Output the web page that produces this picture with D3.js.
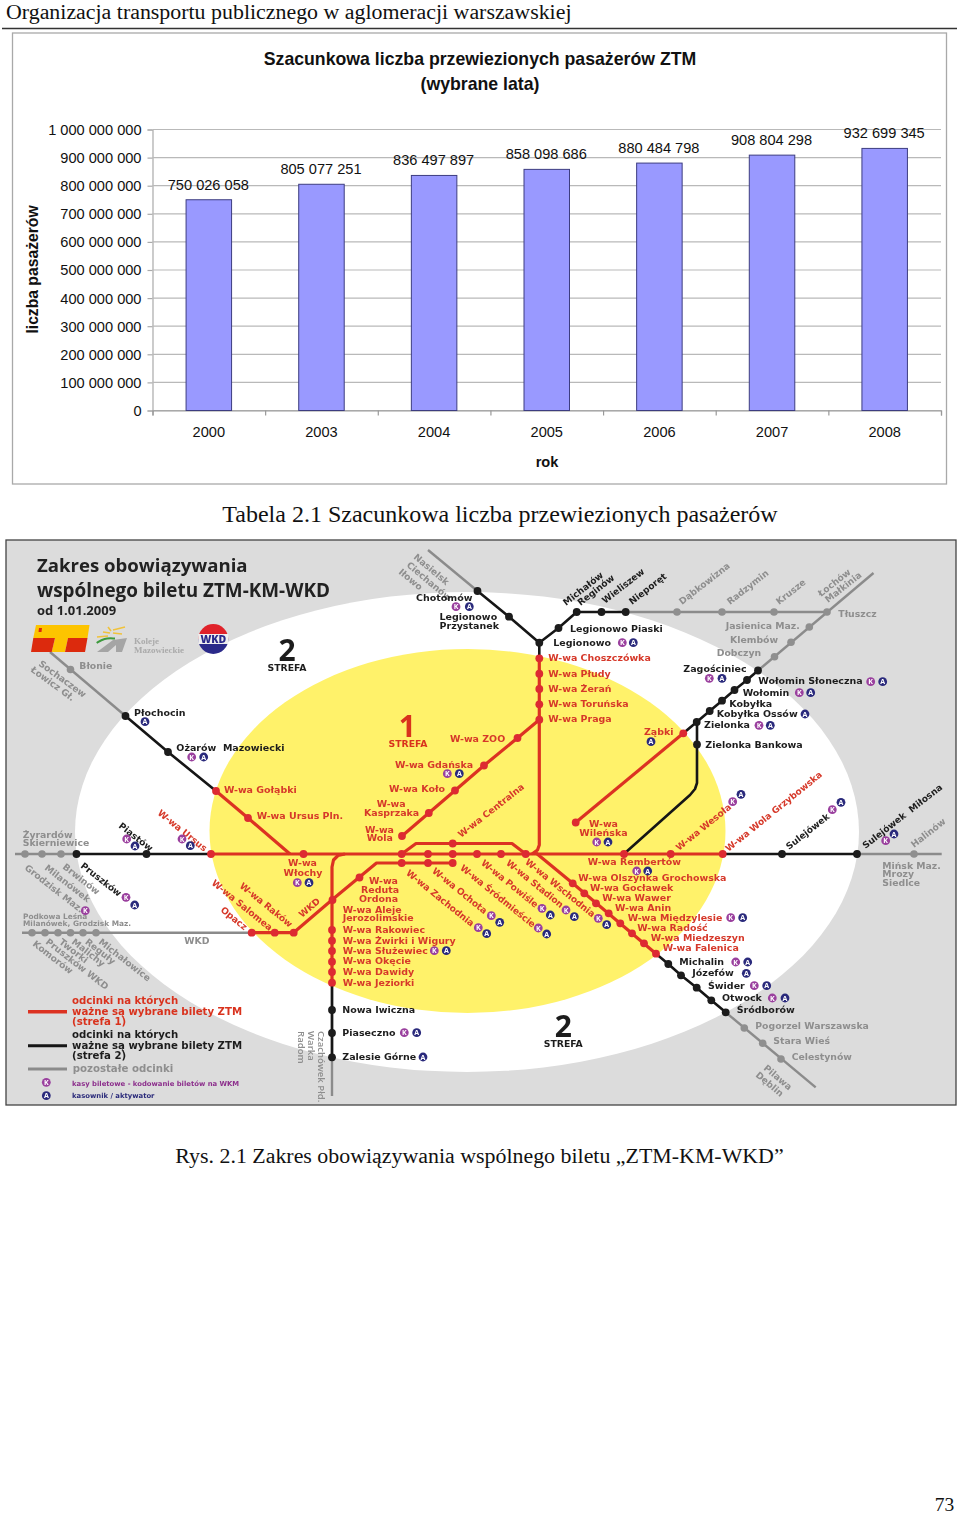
<!DOCTYPE html>
<html><head><meta charset="utf-8">
<script src="https://cdn.jsdelivr.net/npm/d3@7"></script>
<style>
html,body{margin:0;padding:0;background:#fff}
svg{display:block}
.serif{font-family:"Liberation Serif",serif;fill:#111}
.arial{font-family:"Liberation Sans",Arial,sans-serif;fill:#111}
.ml{font-family:"DejaVu Sans",sans-serif;font-weight:700}
.mt{font-family:"Open Sans",sans-serif;font-weight:700}
</style></head><body>
<svg id="page" width="960" height="1515"></svg>
<script>
// ---------- page text ----------
const pageHeading = "Organizacja transportu publicznego w aglomeracji warszawskiej";
const tableCaption = "Tabela 2.1 Szacunkowa liczba przewiezionych pasażerów";
const figureCaption = "Rys. 2.1 Zakres obowiązywania wspólnego biletu „ZTM-KM-WKD”";
const pageNumber = "73";
// ---------- bar chart ----------
const chartTitle = ["Szacunkowa liczba przewiezionych pasażerów ZTM","(wybrane lata)"];
const years = ["2000","2003","2004","2005","2006","2007","2008"];
const passengers = [750026058,805077251,836497897,858098686,880484798,908804298,932699345];
const yTicks = [0,100000000,200000000,300000000,400000000,500000000,600000000,700000000,800000000,900000000,1000000000];
const yLabel = "liczba pasażerów";
const xLabel = "rok";
// ---------- map: positions are the map's own schematic coordinates ----------
const mapEllipses = [[467,832,392,240,"#ffffff"],[467.5,831,258,182,"#fff26a"]];
const grayLines = [
 [[50,652],[125.5,716]],
 [[15,854],[76.5,854]],
 [[22,932.7],[251.7,932.7]],
 [[332,982],[332,1096]],
 [[428,550],[477.5,591]],
 [[625.7,612],[827,612]],
 [[873.5,573],[758,670.5]],
 [[857,854],[941.7,854]],
 [[725.7,1012.3],[815.7,1087.3]]
];
const blackLines = [
 [[125.5,716],[168,752],[216,791]],
 [[76.5,854],[211,854]],
 [[722.7,854],[857,854]],
 [[332,982.7],[332,1057.3]],
 [[477.5,591],[509,616.7],[539.3,642.7]],
 [[539.3,658],[539.3,642.7],[558.5,628],[576.7,612],[625.7,612]],
 [[758,670.5],[747,680],[734.5,690],[722,700.7],[709.7,711],[696.7,722],[683.3,733.3]],
 [[697,722],[697,744.5],[697,783],[695,789],[690,795],[625,853]],
 [[656,953.7],[668.3,964],[681,975.3],[696.7,987.7],[711.3,1000.3],[725.7,1012.3]]
];
const redLines = [
 [[216,791],[248,818],[290,854]],
 [[211,854],[722.7,854]],
 [[401.7,854],[416,843.5],[512,843.5],[525.7,854]],
 [[452.7,863],[376.5,863],[333,899],[293.5,932.7],[251.7,932.7]],
 [[345,854],[338,855.5],[333.5,860],[332,867],[332,982.7]],
 [[539.3,658],[539.3,845],[537.5,850],[532,854]],
 [[539.3,719.7],[517.5,738],[484,765.5],[455,790.5],[428.8,813],[402,836]],
 [[683.3,733.3],[575.7,822.5]],
 [[536,853],[572.7,883.3],[656,953.7]]
];
const graySt = [[70.5,669.5],[25,854],[42,854],[61,854],[32,932.7],[45,932.7],[58,932.7],[70.5,932.7],[83,932.7],[96,932.7],
 [677,612],[722,612],[774,612],[827,612],[809.3,627],[791,642.3],[774.5,656.7],[914,854],[744.3,1028],[762.7,1043.3],[781,1059]];
const blackSt = [[477.5,591],[509,616.7],[539.3,642.7],[558.5,628],[576.7,612],[601.5,612],[625.7,612],[125.5,716],[168,752],[76.5,854],[146.5,854],
 [758,670.5],[747,680],[734.5,690],[722,700.7],[709.7,711],[696.7,722],[697,744.5],[782,854],[857,854],
 [332,1010],[332,1033],[332,1057.3],[668.3,964],[681,975.3],[696.7,987.7],[711.3,1000.3],[725.7,1012.3]];
const redSt = [[216,791],[248,818],[211,854],[303.5,854],[401.7,854],[428,854],[452.7,854],[477,854],[501,854],[525.7,854],[624,854],[670.7,854],[722.7,854],
 [452.7,843.5],[401.7,863],[428,863],[452.7,863],[359.5,877.5],[332.5,900],[293.7,932.7],[274.7,932.7],[251.7,932.7],
 [332,930],[332,940.7],[332,951],[332,961.7],[332,972],[332,982.7],
 [539.3,658.3],[539.3,673.7],[539.3,689],[539.3,704.3],[539.3,719.7],[517.5,738],[484,765.5],[455,790.5],[428.8,813],[402,836],
 [683.3,733.3],[575.7,822.5],[572.7,883.3],[584.3,893.3],[596,903.3],[608.7,913.3],[620.3,923.3],[632,933.3],[644,943.3],[656,953.7]];
const kBadges = [[456,606.7],[191.7,757],[447.3,773.7],[622.3,642.7],[709.3,678.3],[870.7,681.7],[799.3,692.7],[759,725.3],[732.7,801.7],[832.3,809.7],[885.7,840.7],
 [596.7,842],[636.7,871],[730.7,917.7],[735.7,962],[754.3,985.7],[772.3,998],[598.3,918.3],[566,910],[542,908.3],[538.3,928],[491.3,915.7],[478.3,927.7],
 [182,839],[126.7,839],[297.3,882.7],[126,897.3],[85.3,910.7],[434.3,950.7],[404.3,1032.7],[46.3,1082.3]];
const aBadges = [[469.3,606.7],[145,721.7],[203.7,757],[459.3,773.7],[633.3,642.7],[722,678.3],[882.7,681.7],[810.7,692.7],[805,714],[770.3,725.3],[651,741.7],[741,794.3],[841,802.3],[894,834],
 [608,842],[647.7,871],[742.7,917.7],[747.7,962],[746.3,973.3],[766.7,985.7],[785,998],[606.7,924.7],[574.3,916.7],[550.3,915],[546.7,934],[499.7,922.3],[486.7,933.7],
 [190.3,845.7],[135,846],[309,882.7],[134.7,905],[446.3,950.7],[416.7,1032.7],[423,1057],[46.3,1095.7]];
// [text, x, baseline y, angle]
const grayLabels = [
 ["Jasienica Maz.",725.7,629],["Klembów",730,643.3],["Dobczyn",716.7,656],["Tłuszcz",838.3,617],["Błonie",79.3,669.3],
 ["Żyrardów",22.7,837.7],["Skierniewice",22.7,846.3],["WKD",184.3,944.3],
 ["Pogorzel Warszawska",755.3,1029],["Stara Wieś",773.3,1044.3],["Celestynów",791.7,1059.7],
 ["Mińsk Maz.",882.3,868.7],["Mrozy",882.3,877.3],["Siedlce",882.3,886],
 ["Dąbkowizna",682,605,-38],["Radzymin",730,605,-38],["Krusze",779,605,-38],["Łochów",821,597,-38],["Małkinia",828,603,-38],
 ["Nasielsk",413,558,40],["Ciechanów",406,566,40],["Iłowo",398,573,40],
 ["Sochaczew",38,665,36],["Łowicz Gł.",30,671,36],
 ["Brwinów",62,868,38],["Milanówek",44,869,38],["Grodzisk Maz.",24,869,38],
 ["Michałowice",98,943,38],["Reguły",84.5,943,38],["Malichy",71,943,38],["Tworki",58.5,943,38],["Pruszków WKD",45,943,38],["Komorów",32,945,38],
 ["Halinów",914,848,-38],["Pilawa",763,1069,40],["Dęblin",755,1076,40]
];
const smallGrayLabels = [["Podkowa Leśna",23,919],["Milanówek, Grodzisk Maz.",23,926]];
const verticalGrayLabels = [["Czachówek Płd.",318,1031],["Warka",308,1031],["Radom",298,1031]];
const blackLabels = [
 ["Chotomów",416,601],["Legionowo",439.5,620],["Przystanek",439.5,629.3],["Legionowo Piaski",570,632.3],["Legionowo",553.3,646],["Zagościniec",683.3,671.7],
 ["Wołomin Słoneczna",758.3,684],["Wołomin",742.7,696],["Kobyłka",729.3,706.7],["Kobyłka Ossów",716.7,717.3],["Zielonka",704,728.3],["Zielonka Bankowa",705.3,748],
 ["Płochocin",134,716],["Ożarów  Mazowiecki",176.3,750.7],["Nowa Iwiczna",342.3,1013],["Piaseczno",342.3,1035.7],["Zalesie Górne",342.3,1059.7],
 ["Michalin",679.3,965],["Józefów",692.3,976.3],["Świder",708,988.7],["Otwock",722,1001],["Śródborów",736.7,1013.3],
 ["Michałów",566,606,-38],["Reginów",580.5,606,-38],["Wieliszew",605,604,-38],["Nieporęt",632,605,-38],
 ["Pruszków",80,867,38],["Piastów",118,827,38],["Sulejówek",789,850,-38],["Sulejówek  Miłosna",865.5,849,-38]
];
const redLabels = [
 ["W-wa Choszczówka",548.3,661.3],["W-wa Płudy",548.3,676.7],["W-wa Żerań",548.3,692],["W-wa Toruńska",548.3,707],["W-wa Praga",548.3,722.3],
 ["W-wa ZOO",450,742],["W-wa Gdańska",395,767.7],["W-wa Koło",389,792],["W-wa",376.7,807],["Kasprzaka",364,816],["W-wa",365,832.7],["Wola",366.7,841],
 ["W-wa Gołąbki",224,792.7],["W-wa Ursus Pln.",256.7,818.7],["Ząbki",644,735],["W-wa",589,826.7],["Wileńska",579.3,835.7],
 ["W-wa Rembertów",587.7,865],["W-wa Olszynka Grochowska",578.3,881],["W-wa Gocławek",590,891.3],["W-wa Wawer",602.3,901.3],["W-wa Anin",615,910.7],
 ["W-wa Międzylesie",627.7,920.7],["W-wa Radość",637.3,931.3],["W-wa Miedzeszyn",650.7,941.3],["W-wa Falenica",662.7,951],
 ["W-wa",369,884],["Reduta",361,893.3],["Ordona",359,902.3],["W-wa",288,866.3],["Włochy",283.5,875.7],
 ["W-wa Aleje",342.7,912.7],["Jerozolimskie",342.7,921.3],["W-wa Rakowiec",342.7,932.7],["W-wa Żwirki i Wigury",342.7,943.7],["W-wa Służewiec",342.7,953.7],
 ["W-wa Okęcie",342.7,964.3],["W-wa Dawidy",342.7,975],["W-wa Jeziorki",342.7,985.7],
 ["W-wa Ursus",157,814,39],["W-wa Salomea",211,884,39],["W-wa Raków",239,887,39],["Opacz",220,911,39],["WKD",302,918,-40],
 ["W-wa Zachodnia",405.5,874,39],["W-wa Ochota",431.5,872,39],["W-wa Śródmieście",459.5,869,39],["W-wa Powiśle",480.5,864,39],["W-wa Stadion",505.5,864,39],["W-wa Wschodnia",524.5,863,39],
 ["W-wa Centralna",461,838,-38],["W-wa Wesoła",679,851,-39],["W-wa Wola Grzybowska",728.5,852,-39]
];
const zoneDigits = [["1",407.3,736.7,"#d9331f"],["2",287,661,"#1e1e1e"],["2",563.3,1036.7,"#1e1e1e"]];
const zoneWords = [["STREFA",408,746.7,"#d9331f"],["STREFA",287,671,"#1e1e1e"],["STREFA",563.3,1046.7,"#1e1e1e"]];
const mapTitle = [["Zakres obowiązywania",37,571.5,18.6],["wspólnego biletu ZTM-KM-WKD",37,596.5,18.9],["od 1.01.2009",37,615,13]];
const legendSwatches = [[[28,1011.7],[67,1011.7],"#dc3322",3.5],[[28,1045.7],[67,1045.7],"#151515",3],[[28,1069],[67,1069],"#8b8b8b",3]];
const legendTexts = [
 ["odcinki na których",72,1004,"#d9331f",10.2],["ważne są wybrane bilety ZTM",72,1014.7,"#d9331f",10.2],["(strefa 1)",72,1025,"#d9331f",10.2],
 ["odcinki na których",72,1038.3,"#1e1e1e",10.2],["ważne są wybrane bilety ZTM",72,1049,"#1e1e1e",10.2],["(strefa 2)",72,1059.3,"#1e1e1e",10.2],
 ["pozostałe odcinki",72.7,1071.7,"#8e8e8e",10.2],
 ["kasy biletowe - kodowanie biletów na WKM",72,1085.7,"#8c2f8c",6.85],["kasownik / aktywator",72,1097.7,"#2a2a7a",6.85]
];
const logoT = [
 [[[36,625],[89.5,625],[87.5,638],[33.3,638]],"#fdc400"],
 [[[55,638],[68,638],[65,652],[51.7,652]],"#fdc400"],
 [[[33.3,638],[55,638],[51.7,652],[31,652]],"#dc2a10"],
 [[[68,638],[87.5,638],[85,652],[65,652]],"#dc2a10"],
 [[[39,628],[42,628],[41.5,632],[38.5,632]],"#dc2a10"]
];
const logoKMshapes = [
 [[[97,652],[113,640],[127,638],[122,652],[116,652],[116,645],[108,652]],"#a5a5a5"]
];
const logoKMcurves = [
 [[[96.7,643],[104,638],[115,638.5]],"#3d9a3d",2],
 [[[103,632],[110,633]],"#f0c23a",1.6],[[[108,627],[111,631]],"#f0c23a",1.6],[[[113,630],[125,627]],"#f0c23a",1.6],[[[113,633],[122,634]],"#f0c23a",1.6],[[[97,637],[108,636]],"#f0c23a",1.6]
];
const logoKMtext = [["Koleje",134,644],["Mazowieckie",134,652.5]];
const logoWKD = {cx:213.3,cy:639,r:15};

// ---------- drawing ----------
const svg = d3.select("#page");
const T = (t,x,y,size,cls)=>svg.append("text").attr("class",cls).attr("x",x).attr("y",y).attr("font-size",size).text(t);
T(pageHeading,6,18.5,21.9,"serif");
svg.append("line").attr("x1",2).attr("x2",957).attr("y1",28.5).attr("y2",28.5).attr("stroke","#333").attr("stroke-width",1.4);
T(tableCaption,500,522,24,"serif").attr("text-anchor","middle");
T(figureCaption,479.5,1163,21.9,"serif").attr("text-anchor","middle");
T(pageNumber,944.5,1510.5,19.5,"serif").attr("text-anchor","middle");

// chart
svg.append("rect").attr("x",12.5).attr("y",33).attr("width",934).attr("height",451).attr("fill","#fff").attr("stroke","#a9a9a9").attr("stroke-width",1.3);
const plot = {l:152.5,r:941,t:129.5,b:410.5};
const xBand = d3.scaleBand().domain(years).range([plot.l,plot.r]).paddingInner(0).paddingOuter(0);
const y = d3.scaleLinear().domain([0,1e9]).range([plot.b,plot.t]);
const fmt = v=>d3.format(",")(v).replace(/,/g," ");
const ch = svg.append("g");
const ya = ch.append("g").attr("transform",`translate(${plot.l},0)`)
  .call(d3.axisLeft(y).tickValues(yTicks).tickFormat(fmt).tickSize(5).tickPadding(6));
ya.select(".domain").attr("stroke","#aaa").attr("stroke-width",1.2);
ya.selectAll("line").attr("stroke","#aaa").attr("stroke-width",1.2);
ya.selectAll("text").attr("class","arial").attr("font-size",14.6).attr("font-family",null).attr("dy","0.34em");
ch.append("g").selectAll("line").data(yTicks).join("line")
  .attr("x1",plot.l).attr("x2",plot.r).attr("y1",d=>y(d)).attr("y2",d=>y(d)).attr("stroke","#b9b9b9").attr("stroke-width",1.2);
const xEdge = d3.scaleLinear().domain([0,years.length]).range([plot.l,plot.r]);
const xe = ch.append("g").attr("transform",`translate(0,${plot.b})`)
  .call(d3.axisBottom(xEdge).tickValues(d3.range(years.length+1)).tickFormat("").tickSize(5));
xe.selectAll("line,path").attr("stroke","#999").attr("stroke-width",1.2);
const xa = ch.append("g").attr("transform",`translate(0,${plot.b})`)
  .call(d3.axisBottom(xBand).tickSize(0).tickPadding(16));
xa.select(".domain").remove();
xa.selectAll("text").attr("class","arial").attr("font-size",14.6).attr("font-family",null).attr("dy","0.7em");
const barW = 45.5;
ch.selectAll("rect.bar").data(years).join("rect").attr("class","bar")
  .attr("x",d=>xBand(d)+xBand.bandwidth()/2-barW/2)
  .attr("y",(d,i)=>y(passengers[i])).attr("width",barW).attr("height",(d,i)=>plot.b-y(passengers[i]))
  .attr("fill","#9999ff").attr("stroke","#3d3d80").attr("stroke-width",1);
ch.selectAll("text.val").data(years).join("text").attr("class","val arial").attr("font-size",14.6).attr("text-anchor","middle")
  .attr("x",d=>xBand(d)+xBand.bandwidth()/2-.5).attr("y",(d,i)=>y(passengers[i])-10).text((d,i)=>fmt(passengers[i]));
chartTitle.forEach((t,i)=>T(t,480,64.5+i*25,17.7,"arial").attr("text-anchor","middle").attr("font-weight","700"));
T(yLabel,0,0,15.7,"arial").attr("font-weight","700").attr("text-anchor","middle").attr("transform","translate(38,269.5) rotate(-90)");
T(xLabel,547,467,14.6,"arial").attr("font-weight","700").attr("text-anchor","middle");

// map
const mx = d3.scaleLinear().domain([6,956]).range([6,956]);
const my = d3.scaleLinear().domain([540,1105]).range([540,1105]);
const line = d3.line().x(d=>mx(d[0])).y(d=>my(d[1]));
const curve = d3.line().x(d=>mx(d[0])).y(d=>my(d[1])).curve(d3.curveBasis);
const defs = svg.append("defs");
defs.append("filter").attr("id","soft").append("feGaussianBlur").attr("stdDeviation",0.35);
const m = svg.append("g").attr("filter","url(#soft)");
m.append("rect").attr("x",mx(6)).attr("y",my(540)).attr("width",mx(956)-mx(6)).attr("height",my(1105)-my(540)).attr("fill","#dcdcdc");
m.selectAll("ellipse").data(mapEllipses).join("ellipse").attr("cx",d=>mx(d[0])).attr("cy",d=>my(d[1])).attr("rx",d=>d[2]).attr("ry",d=>d[3]).attr("fill",d=>d[4]);
const drawLines=(data,color,w)=>m.append("g").selectAll("path").data(data).join("path").attr("d",line).attr("fill","none").attr("stroke",color).attr("stroke-width",w).attr("stroke-linejoin","round");
drawLines(grayLines,"#8b8b8b",2.4);
drawLines(blackLines,"#151515",2.6);
drawLines(redLines,"#dc3322",3.2);
const drawSt=(data,color,r)=>m.append("g").selectAll("circle").data(data).join("circle").attr("cx",d=>mx(d[0])).attr("cy",d=>my(d[1])).attr("r",r).attr("fill",color);
drawSt(graySt,"#8f8f8f",3.8);
drawSt(blackSt,"#1a1a1a",3.9);
drawSt(redSt,"#dd2b30",3.9);
// logos
m.append("g").selectAll("path").data(logoT).join("path").attr("d",d=>line(d[0])+"Z").attr("fill",d=>d[1]);
m.append("g").selectAll("path").data(logoKMshapes).join("path").attr("d",d=>line(d[0])+"Z").attr("fill",d=>d[1]);
m.append("g").selectAll("path").data(logoKMcurves).join("path").attr("d",d=>curve(d[0])).attr("fill","none").attr("stroke",d=>d[1]).attr("stroke-width",d=>d[2]);
m.append("g").selectAll("text").data(logoKMtext).join("text").attr("x",d=>mx(d[1])).attr("y",d=>my(d[2])).text(d=>d[0])
  .attr("font-family","Liberation Serif").attr("font-size",9).attr("font-weight",700).attr("fill","#aaa");
{const c=logoWKD, a=d3.arc();
 const g=m.append("g").attr("transform",`translate(${mx(c.cx)},${my(c.cy)})`);
 g.append("path").attr("d",a({innerRadius:0,outerRadius:c.r,startAngle:-Math.PI/2,endAngle:Math.PI/2})).attr("fill","#e0232a");
 g.append("path").attr("d",a({innerRadius:0,outerRadius:c.r,startAngle:Math.PI/2,endAngle:3*Math.PI/2})).attr("fill","#2c2a8a");
 g.append("rect").attr("x",-c.r).attr("y",-5).attr("width",2*c.r).attr("height",10).attr("fill","#efefef");
 g.append("text").attr("text-anchor","middle").attr("y",4).attr("font-family","Open Sans").attr("font-weight",800).attr("font-size",10.5).attr("fill","#2c2a8a").text("WKD");
}
const labels=(data,color,size,rotSize)=>m.append("g").selectAll("text").data(data).join("text").attr("class","ml")
  .attr("font-size",d=>d[3]?rotSize:size).attr("fill",color).style("white-space","pre")
  .attr("transform",d=>`translate(${mx(d[1])},${my(d[2])}) rotate(${d[3]||0})`).text(d=>d[0]);
labels(grayLabels,"#8e8e8e",9.3,9.1);
labels(smallGrayLabels,"#8e8e8e",7.4,7.4);
labels(blackLabels,"#1e1e1e",9.5,9.1);
labels(redLabels,"#d6392a",9.45,9.1);
m.append("g").selectAll("text").data(verticalGrayLabels).join("text").attr("font-family","Open Sans").attr("font-size",9.6).attr("font-weight",600).attr("fill","#8e8e8e")
  .attr("transform",d=>`translate(${mx(d[1])},${my(d[2])}) rotate(90)`).text(d=>d[0]);
m.append("g").selectAll("text").data(zoneDigits).join("text").attr("class","mt").attr("text-anchor","middle").attr("font-size",30).attr("fill",d=>d[3])
  .attr("x",d=>mx(d[1])).attr("y",d=>my(d[2])).text(d=>d[0]);
m.append("g").selectAll("text").data(zoneWords).join("text").attr("class","ml").attr("text-anchor","middle").attr("font-size",9.3).attr("fill",d=>d[3])
  .attr("x",d=>mx(d[1])).attr("y",d=>my(d[2])).text(d=>d[0]);
m.append("g").selectAll("text").data(mapTitle).join("text").attr("class","mt").attr("fill","#222").attr("font-size",d=>d[3])
  .attr("x",d=>mx(d[1])).attr("y",d=>my(d[2])).text(d=>d[0]);
m.append("g").selectAll("line").data(legendSwatches).join("line").attr("x1",d=>mx(d[0][0])).attr("x2",d=>mx(d[1][0])).attr("y1",d=>my(d[0][1])).attr("y2",d=>my(d[1][1])).attr("stroke",d=>d[2]).attr("stroke-width",d=>d[3]);
m.append("g").selectAll("text").data(legendTexts).join("text").attr("class","ml").attr("fill",d=>d[3]).attr("font-size",d=>d[4])
  .attr("x",d=>mx(d[1])).attr("y",d=>my(d[2])).text(d=>d[0]);
const badges=(data,color,letter)=>{const g=m.append("g").selectAll("g").data(data).join("g").attr("transform",d=>`translate(${mx(d[0])},${my(d[1])})`);
 g.append("circle").attr("r",4.4).attr("fill",color);
 g.append("text").attr("text-anchor","middle").attr("y",2.5).attr("font-size",7).attr("font-family","Open Sans").attr("font-weight",700).attr("fill","#fff").text(letter);};
badges(kBadges,"#9a3f9e","K");
badges(aBadges,"#2b2a7c","A");
svg.append("rect").attr("x",mx(6)).attr("y",my(540)).attr("width",mx(956)-mx(6)).attr("height",my(1105)-my(540)).attr("fill","none").attr("stroke","#444").attr("stroke-width",1.3);
</script>
</body></html>
